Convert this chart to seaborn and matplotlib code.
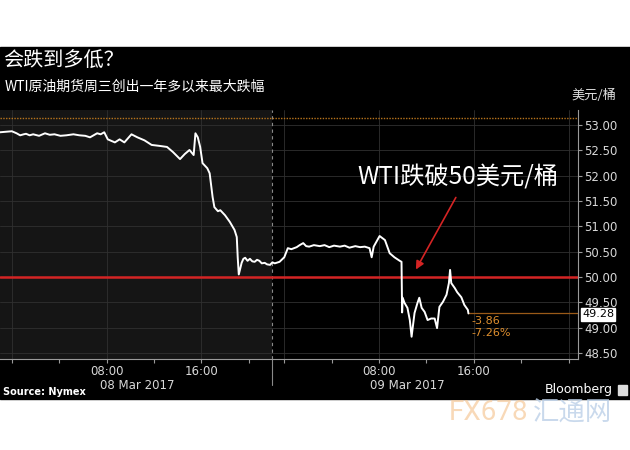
import matplotlib
matplotlib.use("Agg")
import matplotlib.pyplot as plt
import matplotlib.transforms as mtransforms
from matplotlib.patches import Rectangle
import numpy as np
import pandas as pd
import seaborn as sns

# WTI front month, hours from 08 Mar 2017 00:00 on the session axis
# (the 22:00-23:00 daily break is cut out, so 09 Mar 00:00 = 23)
hours = [-1.0, -0.5, 0.0, 0.4, 0.7, 1.0, 1.2, 1.5, 1.8, 2.3, 2.8, 3.2, 3.6,
         4.1, 4.6, 5.2, 5.7, 6.2, 6.6, 6.9, 7.2, 7.5, 7.8, 8.1,
         8.7, 9.1, 9.5, 10.1, 10.6, 11.2, 11.8, 12.5, 13.1, 13.6, 14.2, 14.6,
         15.0, 15.35, 15.5, 15.7, 15.9, 16.1, 16.5, 16.7, 16.95, 17.1, 17.4,
         17.6, 18.0, 18.4, 18.8, 18.99, 19.07, 19.16, 19.4, 19.55, 19.7, 19.9,
         20.1, 20.3, 20.5, 20.7, 20.9, 21.1, 21.35, 21.55, 21.8, 22.0, 22.2,
         22.6, 23.0, 23.3, 23.6, 24.05, 24.3, 24.6, 24.85, 25.1, 25.5, 26.0,
         26.4, 26.8, 27.2, 27.7, 28.1, 28.5, 29.0, 29.4, 29.8, 30.2, 30.38,
         30.55, 31.05, 31.5, 31.9, 32.3, 32.75, 32.9, 32.95, 33.0, 33.15, 33.4,
         33.6, 33.75, 33.85, 34.0, 34.25, 34.4, 34.6, 34.85, 35.1, 35.4, 35.7,
         35.9, 36.1, 36.4, 36.7, 36.9, 37.0, 37.1, 37.4, 37.6, 37.95, 38.2,
         38.5, 38.55]
price = [52.86, 52.87, 52.88, 52.84, 52.80, 52.82, 52.83, 52.80, 52.82, 52.79,
         52.84, 52.81, 52.82, 52.79, 52.80, 52.82, 52.80, 52.79, 52.76, 52.80,
         52.84, 52.82, 52.86, 52.72,
         52.66, 52.72, 52.66, 52.82, 52.76, 52.70, 52.61, 52.59, 52.57, 52.47,
         52.33, 52.43, 52.51, 52.41, 52.84, 52.76, 52.57, 52.25, 52.15, 52.05,
         51.58, 51.38, 51.30, 51.32, 51.22, 51.09, 50.93, 50.79, 50.39, 50.05,
         50.28, 50.36, 50.38, 50.32, 50.36, 50.31, 50.30, 50.34, 50.32, 50.27,
         50.28, 50.25, 50.24, 50.29, 50.27, 50.30, 50.39, 50.57, 50.55, 50.59,
         50.63, 50.67, 50.61, 50.60, 50.63, 50.61, 50.63, 50.59, 50.62, 50.60,
         50.62, 50.58, 50.61, 50.59, 50.60, 50.57, 50.39, 50.60, 50.81, 50.73,
         50.47, 50.39, 50.32, 50.30, 49.30, 49.59, 49.49, 49.39, 49.15, 48.82,
         49.01, 49.29, 49.49, 49.59, 49.39, 49.31, 49.15, 49.18, 49.18, 48.99,
         49.41, 49.51, 49.65, 49.88, 50.14, 49.88, 49.78, 49.70, 49.60, 49.45,
         49.35, 49.28]

prev_close = 53.14
last_price = 49.28
change_abs = "-3.86"
change_pct = "-7.26%"
level_50 = 50.00
day_break = 22

tick_pos = [0, 4, 8, 12, 16, 20, 23, 27, 31, 35, 39, 43, 47]
grid_pos = [0, 8, 16, 23, 31, 39, 47]
time_labels = {8: "08:00", 16: "16:00", 31: "08:00", 39: "16:00"}
day_labels = ["08 Mar 2017", "09 Mar 2017"]
day_label_pos = [10.6, 33.4]
y_ticks = np.arange(48.5, 53.01, 0.5)

df = pd.DataFrame({"hours": hours, "price": price})

sns.set_style("dark")
plt.rcParams["font.family"] = ["DejaVu Sans", "Noto Sans CJK SC"]
cjk = ["Noto Sans CJK SC", "DejaVu Sans"]

W, H = 630, 450
fig = plt.figure(figsize=(6.3, 4.5), dpi=100)
fig.patch.set_facecolor("white")
fig.add_artist(Rectangle((0, 1 - 399 / H), 1, (399 - 47) / H,
                         transform=fig.transFigure, color="black", zorder=0))

ax = fig.add_axes([0, 1 - 359 / H, 578 / W, (359 - 110) / H])
ax.set_facecolor("black")
xmin, xmax = -1.0, 47.8
ax.set_xlim(xmin, xmax)
ax.set_ylim(48.38, 53.30)

# previous session shaded
ax.axvspan(xmin, day_break, color="#151515", lw=0, zorder=0)

for y in y_ticks:
    ax.axhline(y, color="#303030", lw=0.6, zorder=1)
for x in grid_pos:
    ax.axvline(x, color="#303030", lw=0.6, zorder=1)
ax.axvline(day_break, color="#8a8a8a", lw=0.8, ls=(0, (3, 3)), zorder=1)
trans_xa = mtransforms.blended_transform_factory(ax.transData, ax.transAxes)
ax.plot([day_break, day_break], [0, -0.105], color="#8a8a8a", lw=0.8,
        transform=trans_xa, clip_on=False)

ax.axhline(prev_close, color="#b8741c", lw=1.0, ls=(0, (1, 1)), zorder=2)
ax.axhline(level_50, color="#d42424", lw=1.8, zorder=2)
ax.plot([hours[-1], xmax], [last_price, last_price], color="#9a5a18", lw=0.9, zorder=2)

sns.lineplot(data=df, x="hours", y="price", color="white", lw=1.4,
             estimator=None, sort=False, ax=ax, zorder=3)

for s in ["left", "top"]:
    ax.spines[s].set_visible(False)
for s in ["right", "bottom"]:
    ax.spines[s].set_visible(True)
    ax.spines[s].set_color("#9a9a9a")
    ax.spines[s].set_linewidth(0.8)

ax.yaxis.tick_right()
ax.set_yticks(y_ticks)
ax.set_yticklabels([f"{v:.2f}" for v in y_ticks])
ax.set_xticks(tick_pos)
ax.set_xticklabels([time_labels.get(t, "") for t in tick_pos])
ax.tick_params(axis="both", colors="#9a9a9a", labelcolor="#d8d8d8",
               labelsize=8.5, length=3, width=0.8, pad=1.5, direction="out")
ax.tick_params(axis="y", right=True, left=False)
ax.tick_params(axis="x", bottom=True)
ax.set_xlabel("")
ax.set_ylabel("")
for xp, lab in zip(day_label_pos, day_labels):
    ax.text(xp, -0.105, lab, transform=trans_xa, ha="center", va="center",
            color="#d8d8d8", fontsize=8.5)

# latest price tag
ax.annotate(f"{last_price:.2f}", xy=(1.0, last_price - 0.02),
            xycoords=("axes fraction", "data"), xytext=(3, 0),
            textcoords="offset points", ha="left", va="center",
            color="black", fontsize=8,
            bbox=dict(boxstyle="square,pad=0.1", fc="white", ec="white"))
ax.text(38.8, 49.13, change_abs, color="#e0902f", fontsize=8, va="center")
ax.text(38.8, 48.90, change_pct, color="#e0902f", fontsize=8, va="center")

# callout
ax.text(29.2, 51.97, "WTI跌破50美元/桶", color="white", fontsize=17.5,
        va="center", ha="left", family=cjk)
ax.annotate("", xy=(34.0, 50.10), xytext=(37.6, 51.62),
            arrowprops=dict(arrowstyle="-|>", color="#d42424", lw=1.2,
                            mutation_scale=12))

# titles and footer
fig.text(3 / W, 1 - 61 / H, "会跌到多低？", color="white", fontsize=14.5,
         va="center", ha="left", family=cjk)
fig.text(5 / W, 1 - 87 / H, "WTI原油期货周三创出一年多以来最大跌幅", color="white",
         fontsize=10, va="center", ha="left", family=cjk)
fig.text(594 / W, 1 - 95 / H, "美元/桶", color="#dddddd", fontsize=9.5,
         va="center", ha="center", family=cjk)
fig.text(3 / W, 1 - 392 / H, "Source: Nymex", color="white", fontsize=7,
         fontweight="bold", va="center", ha="left")
fig.text(613 / W, 1 - 390 / H, "Bloomberg", color="white", fontsize=9,
         va="center", ha="right")
fig.add_artist(Rectangle((618 / W, 1 - 395 / H), 9 / W, 10 / H,
                         transform=fig.transFigure, color="#dddddd"))

# watermark
fig.text(449 / W, 1 - 413 / H, "FX678", color="#f6c99a", alpha=0.7,
         fontsize=20, va="center", ha="left", family=["Roboto", "DejaVu Sans"])
fig.text(533 / W, 1 - 413 / H, "汇通网", color="#bcd0e8", alpha=0.8,
         fontsize=19, va="center", ha="left", family=cjk)

fig.savefig("out.png", dpi=100, facecolor="white")
